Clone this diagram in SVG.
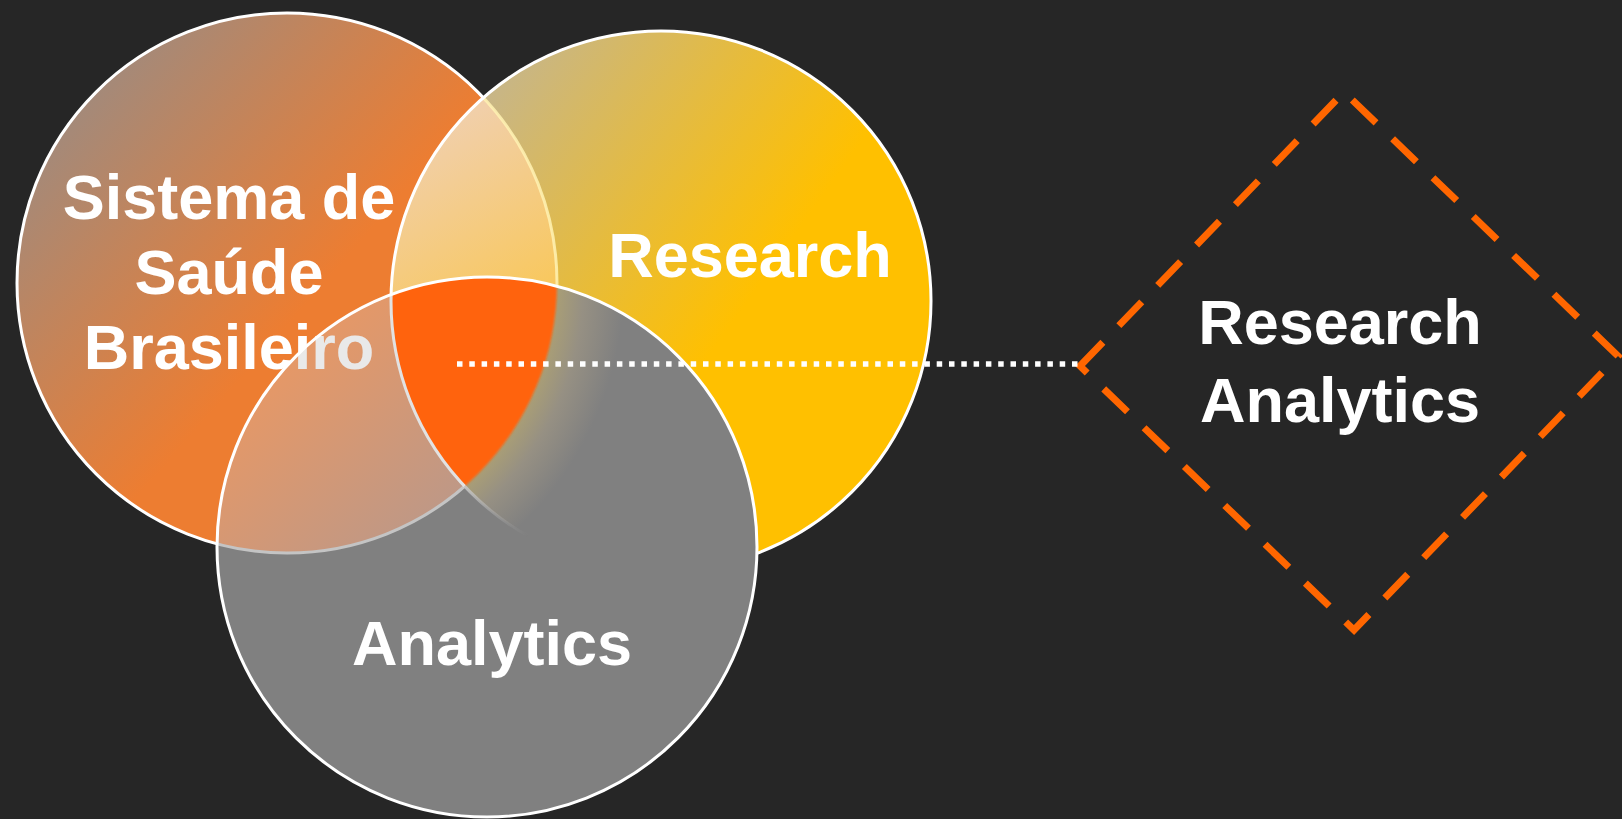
<svg xmlns="http://www.w3.org/2000/svg" width="1622" height="819" viewBox="0 0 1622 819">
<style>
.lbl{font-family:"Liberation Sans",Arial,Helvetica,sans-serif;font-weight:bold;font-size:63px;fill:#fff;text-anchor:middle}
.ol{fill:none;stroke-width:3}
</style>
<defs>
  <clipPath id="cpC1"><circle cx="287" cy="283" r="270"/></clipPath>
  <clipPath id="cpC2"><circle cx="661" cy="301" r="270"/></clipPath>
  <clipPath id="cpC3"><circle cx="487" cy="547" r="270"/></clipPath>
  <linearGradient id="gC1" gradientUnits="userSpaceOnUse" x1="40" y1="60" x2="360" y2="340">
    <stop offset="0" stop-color="#958C88"/>
    <stop offset="0.85" stop-color="#ED7D31"/>
  </linearGradient>
  <linearGradient id="gC2" gradientUnits="userSpaceOnUse" x1="430" y1="80" x2="780" y2="330">
    <stop offset="0" stop-color="#BEB49E"/>
    <stop offset="0.9" stop-color="#FFC000"/>
  </linearGradient>
  <linearGradient id="gC12" gradientUnits="userSpaceOnUse" x1="440" y1="130" x2="530" y2="290">
    <stop offset="0" stop-color="#F1CFA9"/>
    <stop offset="1" stop-color="#F8C860"/>
  </linearGradient>
  <linearGradient id="gC13" gradientUnits="userSpaceOnUse" x1="300" y1="360" x2="450" y2="520">
    <stop offset="0" stop-color="#E49868"/>
    <stop offset="1" stop-color="#BC9888"/>
  </linearGradient>
  <radialGradient id="gC23" gradientUnits="userSpaceOnUse" cx="287" cy="283" r="337">
    <stop offset="0.8" stop-color="#A99E76"/>
    <stop offset="0.88" stop-color="#969083"/>
    <stop offset="1" stop-color="#808080"/>
  </radialGradient>
  <radialGradient id="gTxt" gradientUnits="userSpaceOnUse" cx="487" cy="547" r="270">
    <stop offset="0.995" stop-color="#E9E9E9"/>
    <stop offset="1" stop-color="#FFFFFF"/>
  </radialGradient>
  <radialGradient id="gFade" gradientUnits="userSpaceOnUse" cx="465" cy="486" r="80">
    <stop offset="0" stop-color="#C8C8C8" stop-opacity="0.9"/>
    <stop offset="1" stop-color="#A0A0A0" stop-opacity="0"/>
  </radialGradient>
  <filter id="soft" x="-5%" y="-5%" width="110%" height="110%">
    <feGaussianBlur stdDeviation="1.2"/>
  </filter>
  <mask id="mC1a" maskUnits="userSpaceOnUse" x="0" y="0" width="1622" height="819">
    <rect width="1622" height="819" fill="#fff"/>
    <circle cx="661" cy="301" r="270" fill="#000"/>
    <circle cx="487" cy="547" r="270" fill="#000"/>
  </mask>
  <mask id="mC1b" maskUnits="userSpaceOnUse" x="0" y="0" width="1622" height="819">
    <circle cx="661" cy="301" r="270" fill="#fff"/>
    <circle cx="487" cy="547" r="270" fill="#000"/>
  </mask>
  <mask id="mC1c" maskUnits="userSpaceOnUse" x="0" y="0" width="1622" height="819">
    <circle cx="487" cy="547" r="270" fill="#fff"/>
    <circle cx="661" cy="301" r="270" fill="#000"/>
  </mask>
  <mask id="mC2a" maskUnits="userSpaceOnUse" x="0" y="0" width="1622" height="819">
    <rect width="1622" height="819" fill="#fff"/>
    <circle cx="487" cy="547" r="270" fill="#000"/>
  </mask>
  <mask id="mC2b" maskUnits="userSpaceOnUse" x="0" y="0" width="1622" height="819">
    <g clip-path="url(#cpC1)"><circle cx="487" cy="547" r="270" fill="#fff"/></g>
  </mask>
  <mask id="mC2c" maskUnits="userSpaceOnUse" x="0" y="0" width="1622" height="819">
    <circle cx="487" cy="547" r="270" fill="#fff"/>
    <circle cx="287" cy="283" r="270" fill="#000"/>
  </mask>
</defs>

<rect width="1622" height="819" fill="#262626"/>

<g id="venn-fills">
  <circle cx="287" cy="283" r="270" fill="url(#gC1)"/>
  <circle cx="661" cy="301" r="270" fill="url(#gC2)"/>
  <circle cx="661" cy="301" r="270" fill="url(#gC12)" clip-path="url(#cpC1)"/>
  <circle cx="487" cy="547" r="270" fill="#808080"/>
  <circle cx="287" cy="283" r="270" fill="url(#gC13)" clip-path="url(#cpC3)"/>
  <circle cx="661" cy="301" r="270" fill="url(#gC23)" clip-path="url(#cpC3)"/>
  <g clip-path="url(#cpC3)">
    <g clip-path="url(#cpC2)">
      <circle cx="287" cy="283" r="270" fill="#FF6310" filter="url(#soft)"/>
    </g>
  </g>
</g>

<g id="node-saude">
  <circle class="ol" cx="287" cy="283" r="270" stroke="#FFFFFF" mask="url(#mC1a)"/>
  <circle class="ol" cx="287" cy="283" r="270" stroke="#FFF2B3" stroke-opacity="0.85" mask="url(#mC1b)"/>
  <circle class="ol" cx="287" cy="283" r="270" stroke="#C4C4C4" mask="url(#mC1c)"/>
  <text class="lbl" style="fill:url(#gTxt)"><tspan x="229" y="219">Sistema de</tspan><tspan x="229" y="294">Saúde</tspan><tspan x="229" y="369">Brasileiro</tspan></text>
</g>

<g id="node-research">
  <circle class="ol" cx="661" cy="301" r="270" stroke="#FFFFFF" mask="url(#mC2a)"/>
  <circle class="ol" cx="661" cy="301" r="270" stroke="#E2E2E2" mask="url(#mC2b)"/>
  <circle class="ol" cx="661" cy="301" r="270" stroke="url(#gFade)" mask="url(#mC2c)"/>
  <text class="lbl" x="750" y="277">Research</text>
</g>

<g id="node-analytics">
  <circle class="ol" cx="487" cy="547" r="270" stroke="#FFFFFF"/>
  <text class="lbl" x="492" y="665">Analytics</text>
</g>

<g id="node-research-analytics">
  <path d="M1080,366 L1344,92 L1618,356 L1354,630 Z" fill="none" stroke="#FF6600" stroke-width="7" stroke-dasharray="33 23"/>
  <text class="lbl"><tspan x="1340" y="344">Research</tspan><tspan x="1340" y="422">Analytics</tspan></text>
</g>

<g id="connectors">
  <line x1="457" y1="364" x2="1082" y2="364" stroke="#FFFFFF" stroke-width="5.5" stroke-dasharray="5.5 6.8"/>
</g>
</svg>
